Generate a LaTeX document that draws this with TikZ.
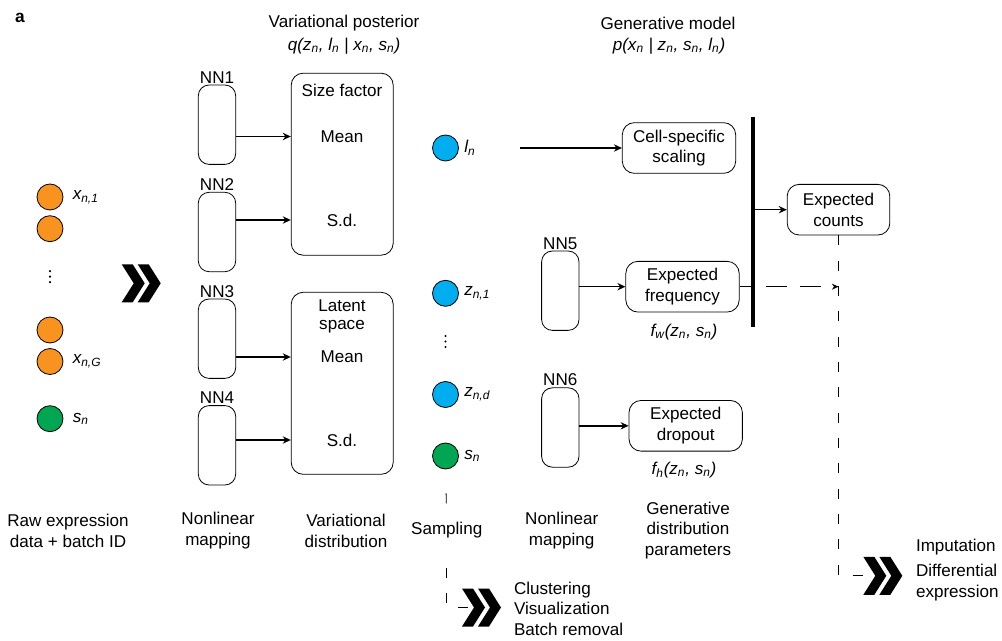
\documentclass[tikz,border=0pt]{standalone}
\usepackage{fontspec}
\setmainfont{Liberation Sans}
\usepackage{tikz}
\usetikzlibrary{arrows.meta, positioning, calc}

\definecolor{dotorange}{HTML}{F7931E}
\definecolor{dotblue}{HTML}{00AEEF}
\definecolor{dotgreen}{HTML}{00A651}

\tikzset{
  nnbox/.style={draw, line width=0.6pt, rounded corners=8pt, minimum width=28pt, minimum height=59.5pt},
  distbox/.style={draw, line width=0.6pt, rounded corners=9pt, minimum width=76.5pt, minimum height=136.5pt},
  genbox/.style={draw, line width=0.6pt, rounded corners=9pt, minimum width=85pt, minimum height=38pt, align=center, inner sep=1pt},
  latdot/.style={circle, draw, line width=0.6pt, minimum size=19.5pt, inner sep=0pt},
  arr/.style={-{Stealth[length=6pt, width=5.5pt]}, line width=1.1pt},
  dashline/.style={line width=0.6pt, dash pattern=on 7.5pt off 11.5pt},
  chev/.pic={
    \fill (0,-19) -- (11,-19) -- (23,0) -- (11,19) -- (0,19) -- (12,0) -- cycle;
    \fill (16,-19) -- (27,-19) -- (39,0) -- (27,19) -- (16,19) -- (28,0) -- cycle;
  },
  vdotcol/.pic={
    \foreach \dy in {-5.5,0,5.5}
      \fill (0,\dy) circle (0.9pt);
  }
}

\begin{document}
\begin{tikzpicture}[x=0.75pt, y=-0.75pt, font=\fontsize{12.8}{15.6}\selectfont]
    \useasboundingbox (0,0) rectangle (1002,641);

    % panel letter and titles
    \node[font=\fontsize{13}{15}\selectfont\bfseries] (panel) at (20,18) {a};
    \node (vptitle) at (344,23) {Variational posterior};
    \node (vpform) at (344,46) {\textit{q(z\textsubscript{n}, l\textsubscript{n} | x\textsubscript{n}, s\textsubscript{n})}};
    \node (gmtitle) at (668,23) {Generative model};
    \node (gmform) at (669,46) {\textit{p(x\textsubscript{n} | z\textsubscript{n}, s\textsubscript{n}, l\textsubscript{n})}};

    % raw expression data
    \node[latdot, fill=dotorange] (x1) at (50,197) {};
    \node[latdot, fill=dotorange] (x2) at (50,228.7) {};
    \coordinate (xdots) at (50,276.7);
    \pic at (xdots) {vdotcol};
    \node[latdot, fill=dotorange] (x3) at (50,330) {};
    \node[latdot, fill=dotorange] (xG) at (50,361.5) {};
    \node[latdot, fill=dotgreen] (s1) at (50,418.7) {};
    \node[right=3.5pt of x1] (x1lbl) {\textit{x\textsubscript{n,1}}};
    \node[right=3.5pt of xG] (xGlbl) {\textit{x\textsubscript{n,G}}};
    \node[right=3.5pt of s1] (s1lbl) {\textit{s\textsubscript{n}}};
    \coordinate (chevA) at (121.7,283.3);
    \pic at (chevA) {chev};

    % encoder networks
    \node[nnbox] (nn1) at (217,124.7) {};
    \node[nnbox] (nn2) at (217,232) {};
    \node[nnbox] (nn3) at (217,338.7) {};
    \node[nnbox] (nn4) at (217,445.3) {};
    \node[above=-2.5pt of nn1] (nn1lbl) {NN1};
    \node[above=-2.5pt of nn2] (nn2lbl) {NN2};
    \node[above=-2.5pt of nn3] (nn3lbl) {NN3};
    \node[above=-2.5pt of nn4] (nn4lbl) {NN4};

    % variational distribution
    \node[distbox] (vd1) at (342.2,164.2) {};
    \node[distbox] (vd2) at (342.2,383.3) {};
    \node (sf) at (342,90.7) {Size factor};
    \node (m1) at (342,136.5) {Mean};
    \node (sd1) at (342,220) {S.d.};
    \node[align=center, font=\fontsize{12.8}{13.5}\selectfont] (ls) at (342,316) {Latent\\space};
    \node (m2) at (342,357) {Mean};
    \node (sd2) at (342,440) {S.d.};
    \draw[arr] (nn1.east |- m1) -- (vd1.west |- m1);
    \draw[arr] (nn2.east |- sd1) -- (vd1.west |- sd1);
    \draw[arr] (nn3.east |- m2) -- (vd2.west |- m2);
    \draw[arr] (nn4.east |- sd2) -- (vd2.west |- sd2);

    % sampling
    \node[latdot, fill=dotblue] (ln) at (445.5,148) {};
    \node[latdot, fill=dotblue] (z1) at (445.5,293.3) {};
    \coordinate (zdots) at (445.5,341.5);
    \pic at (zdots) {vdotcol};
    \node[latdot, fill=dotblue] (zd) at (445.5,394.5) {};
    \node[latdot, fill=dotgreen] (s2) at (445.5,456) {};
    \node[right=0.5pt of ln] (lnlbl) {\textit{l\textsubscript{n}}};
    \node[right=0.5pt of z1] (z1lbl) {\textit{z\textsubscript{n,1}}};
    \node[right=0.5pt of zd] (zdlbl) {\textit{z\textsubscript{n,d}}};
    \node[right=0.5pt of s2] (s2lbl) {\textit{s\textsubscript{n}}};

    % generative model
    \coordinate (lstart) at (520,148);
    \node[genbox] (cell) at (679,148) {Cell-specific\\scaling};
    \draw[arr] (lstart) -- (cell.west);
    \coordinate (bartop) at (753,117);
    \coordinate (barbot) at (753,327);
    \draw[line width=3pt] (bartop) -- (barbot);
    \node[genbox, minimum width=77pt] (counts) at (838.5,209.7) {Expected\\counts};
    \draw[arr] (bartop |- counts.west) -- (counts.west);

    \node[nnbox] (nn5) at (560.3,290.7) {};
    \node[nnbox] (nn6) at (560.3,427.5) {};
    \node[above=-2.5pt of nn5] (nn5lbl) {NN5};
    \node[above=-2.5pt of nn6] (nn6lbl) {NN6};
    \node[genbox] (freq) at (682.5,286.7) {Expected\\frequency};
    \node[genbox] (drop) at (685.7,425.8) {Expected\\dropout};
    \draw[arr] (nn5.east |- freq.west) -- (freq.west);
    \draw[arr] (nn6.east |- drop.west) -- (drop.west);
    \node (fw) at (684,331.7) {\textit{f\textsubscript{w}(z\textsubscript{n}, s\textsubscript{n})}};
    \node (fh) at (684,470) {\textit{f\textsubscript{h}(z\textsubscript{n}, s\textsubscript{n})}};
    \draw[line width=0.6pt] (freq.east) -- (barbot |- freq.east);
    \draw[line width=0.6pt, dash pattern=on 15.75pt off 9.75pt, dash phase=15.75pt,
          -{Stealth[length=5pt, width=4.5pt]}] (barbot |- freq.east) -- (counts.south |- freq.east);

    % column captions
    \node[align=center] (rawlbl) at (68,530.5) {Raw expression\\data + batch ID};
    \node[align=center] (maplbl1) at (218,530.5) {Nonlinear\\mapping};
    \node[align=center] (distlbl) at (346,530.5) {Variational\\distribution};
    \node (samp) at (446.7,530) {Sampling};
    \node[align=center] (maplbl2) at (561.7,530.5) {Nonlinear\\mapping};
    \node[align=center] (parlbl) at (688,530.5) {Generative\\distribution\\parameters};

    % downstream tasks
    \coordinate (chevB) at (462,607.5);
    \pic at (chevB) {chev};
    \draw[dashline, shorten <=18pt] (s2.south) -- (samp.north);
    \draw[dashline, shorten <=19pt] (samp.south) |- ([xshift=8pt]chevB);
    \node[anchor=west, align=left] (dstxt) at (509.3,608.7) {Clustering\\Visualization\\Batch removal};

    \coordinate (chevC) at (863.3,575.8);
    \pic at (chevC) {chev};
    \draw[dashline] (counts.south) |- ([xshift=9pt]chevC);
    \node[anchor=west] (imp) at (911.3,547) {Imputation};
    \node[anchor=west, align=left] (dex) at (911.3,582.5) {Differential\\expression};
\end{tikzpicture}
\end{document}
